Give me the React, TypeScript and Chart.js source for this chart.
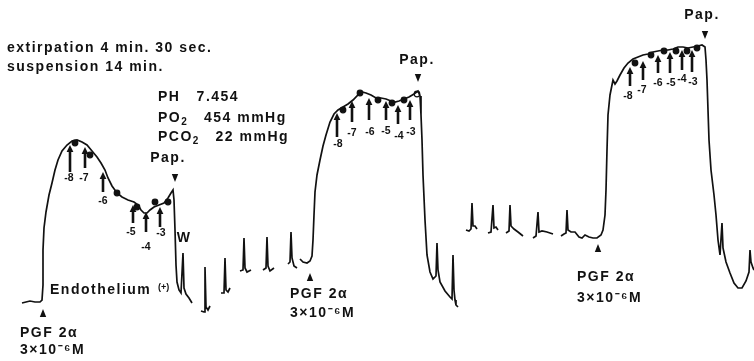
import React, { useEffect, useRef } from "react";
import { Chart, registerables } from "chart.js";

Chart.register(...registerables);

// Recorder trace: time (chart units) and tension (chart units); null = pen lifted
const traceTime = [
  22, 26, 30, 35, 40, 42, 43, 43, 44, 46, 49, 52, 55, 58, 62, 67, 72, 77, 82, 87, 92, 97, 101, 105, 108, 112, 117, 122, 128, 134, 138, 141, 144, 147, 150, 154, 159, 164, 168, 171, 173, 174, 175, 176, 177, 179, 181, 183, 184, 186, 189, 192, 195,
  201, 204, 205, 206, 208, 210, 215,
  221, 224, 225, 226, 228, 230, 235,
  240, 243, 244, 245, 247, 251, 255,
  263, 266, 267, 268, 270, 274, 280,
  288, 290, 291, 292, 294, 297, 298,
  300, 303, 307, 310, 312, 313, 314, 315, 317, 320, 323, 326, 330, 334, 338, 343, 348, 353, 358, 362, 366, 371, 376, 381, 386, 391, 395, 399, 404, 409, 414, 418, 420, 421, 422, 423, 425, 427, 430, 433, 436, 437, 438, 440, 445, 450, 452, 453, 454, 455, 456, 458, 462,
  466, 469, 471, 472, 473, 475, 477, 480,
  488, 491, 493, 494, 496, 498, 500,
  506, 509, 510, 511, 514, 518, 523, 528,
  533, 536, 538, 539, 542, 547, 553, 557,
  561, 564, 566, 567, 568, 571, 575, 579, 582, 585, 589, 593, 597, 601, 603, 605, 606, 607, 608, 610, 612, 613, 615, 617, 620, 624, 628, 633, 638, 643, 648, 653, 658, 663, 668, 673, 678, 683, 688, 693, 698, 702, 705, 706, 707, 708, 709, 711, 714, 716, 718, 720, 722, 723, 726, 730, 734, 738, 742, 746, 749, 750, 751, 753, 754,
];
const traceTension = [
  58, 59, 60, 59, 59, 61, 76, 111, 133, 149, 166, 178, 191, 201, 210, 216, 220, 221, 219, 216, 210, 204, 198, 191, 183, 175, 168, 164, 161, 159, 156, 151, 148, 148, 151, 154, 156, 158, 163, 168, 171, 161, 131, 96, 79, 71, 68, 108, 73, 67, 63, 58, null,
  50, 49, 94, 54, 51, 55, null,
  68, 68, 103, 71, 69, 73, null,
  90, 91, 123, 93, 89, 91, null,
  91, 93, 124, 95, 90, 93, null,
  97, 99, 129, 103, 95, 93, null,
  102, 99, 98, 100, 105, 121, 146, 169, 186, 201, 215, 226, 239, 247, 251, 254, 257, 261, 266, 269, 268, 266, 263, 263, 262, 260, 259, 260, 262, 264, 267, 270, 265, 246, 221, 186, 141, 106, 89, 82, 85, 118, 91, 79, 70, 64, 62, 106, 71, 61, 56, 54, null,
  131, 130, 132, 158, 135, 135, 132, null,
  128, 129, 156, 133, 134, 131, null,
  128, 130, 156, 135, 132, 129, 125, null,
  123, 125, 149, 129, 130, 129, 127, null,
  125, 127, 128, 151, 131, 129, 129, 124, 123, 126, 124, 123, 123, 126, 131, 146, 171, 211, 246, 266, 276, 281, 277, 280, 286, 293, 298, 302, 304, 306, 307, 309, 310, 311, 311, 312, 314, 314, 313, 314, 315, 316, 314, 301, 281, 251, 221, 191, 166, 146, 121, 106, 138, 113, 99, 88, 78, 73, 73, 80, 89, 111, 99, 93, 91,
];

// Measurement dots on the plateau
const dotTime = [75, 90, 117, 137, 155, 168, 343, 360, 378, 392, 404, 417, 635, 651, 664, 676, 687, 697];
const dotTension = [218, 206, 168, 154, 159, 159, 251, 268, 261, 258, 261, 267, 298, 306, 310, 310, 310, 313];
const dotOpen = [false, false, false, false, false, false, false, false, false, false, false, true, false, false, false, false, false, false];

// Papaverine-dose arrows (-8 ... -3)
const arrowLabels = ["-8", "-7", "-6", "-5", "-4", "-3", "-8", "-7", "-6", "-5", "-4", "-3", "-8", "-7", "-6", "-5", "-4", "-3"];
const arrowTime = [70, 85, 103, 133, 146, 160, 337, 352, 369, 386, 398, 410, 630, 643, 658, 670, 682, 692];
const arrowTail = [189, 193, 169, 138, 129, 134, 224, 239, 241, 241, 237, 241, 275, 281, 288, 288, 291, 289];
const arrowHead = [216, 214, 189, 156, 149, 154, 248, 260, 263, 260, 256, 261, 294, 300, 306, 309, 311, 311];
const arrowLabelTime = [69, 84, 103, 131, 146, 161, 338, 352, 370, 386, 399, 411, 628, 642, 658, 671, 682, 693];
const arrowLabelTension = [183, 183, 160, 129, 114, 128, 217, 228, 229, 230, 225, 229, 265, 271, 278, 278, 282, 279];

// Event markers
const downMarkTime = [175, 418, 705];
const downMarkTension = [183, 283, 326];
const upMarkTime = [43, 310, 598];
const upMarkTension = [48, 84, 113];

// Text notes ("_" marks a subscript character)
const noteText = [
  "extirpation 4 min. 30 sec.",
  "suspension 14 min.",
  "PH   7.454",
  "PO_2   454 mmHg",
  "PCO_2   22 mmHg",
  "Pap.", "Pap.", "Pap.",
  "W",
  "Endothelium",
  "(+)",
  "PGF 2\u03b1", "3\u00d710\u207b\u2076M",
  "PGF 2\u03b1", "3\u00d710\u207b\u2076M",
  "PGF 2\u03b1", "3\u00d710\u207b\u2076M",
];
const noteTime = [7, 7, 158, 158, 158, 168, 417, 702, 184, 50, 158, 20, 20, 290, 290, 577, 577];
const noteTension = [313, 294, 264, 243, 224, 203, 301, 346, 123, 71, 73, 28, 11, 67, 48, 84, 63];
const noteAlign = ["left", "left", "left", "left", "left", "center", "center", "center", "center", "left", "left", "left", "left", "left", "left", "left", "left"];
const noteSize = [14, 14, 14, 14, 14, 14, 14, 14, 14, 14, 9, 14, 14, 14, 14, 14, 14];

const INK = "#111";
const FONT = '"Liberation Sans", Arial, sans-serif';

const annotations = {
  id: "annotations",
  afterDatasetsDraw(chart: any) {
    const { ctx } = chart;
    const xs = chart.scales.x;
    const ys = chart.scales.y;
    const X = (v: number) => xs.getPixelForValue(v);
    const Y = (v: number) => ys.getPixelForValue(v);
    ctx.save();
    ctx.fillStyle = INK;
    ctx.strokeStyle = INK;

    // arrows
    arrowTime.forEach((t, i) => {
      const px = X(t);
      const ty = Y(arrowTail[i]);
      const hy = Y(arrowHead[i]);
      ctx.lineWidth = 2.6;
      ctx.beginPath();
      ctx.moveTo(px, ty);
      ctx.lineTo(px, hy + 5);
      ctx.stroke();
      ctx.beginPath();
      ctx.moveTo(px, hy);
      ctx.lineTo(px - 3.4, hy + 7);
      ctx.lineTo(px + 3.4, hy + 7);
      ctx.closePath();
      ctx.fill();
    });

    // arrow labels
    ctx.font = `bold 10.5px ${FONT}`;
    ctx.textAlign = "center";
    ctx.textBaseline = "middle";
    arrowLabels.forEach((s, i) => {
      ctx.fillText(s, X(arrowLabelTime[i]), Y(arrowLabelTension[i]));
    });

    // triangles
    downMarkTime.forEach((t, i) => {
      const px = X(t), py = Y(downMarkTension[i]);
      ctx.beginPath();
      ctx.moveTo(px - 3.2, py - 4);
      ctx.lineTo(px + 3.2, py - 4);
      ctx.lineTo(px, py + 4);
      ctx.closePath();
      ctx.fill();
    });
    upMarkTime.forEach((t, i) => {
      const px = X(t), py = Y(upMarkTension[i]);
      ctx.beginPath();
      ctx.moveTo(px - 3.2, py + 4);
      ctx.lineTo(px + 3.2, py + 4);
      ctx.lineTo(px, py - 4);
      ctx.closePath();
      ctx.fill();
    });

    // notes
    noteText.forEach((s, i) => {
      const size = noteSize[i];
      const spacing = size >= 13 ? "1.5px" : "0px";
      ctx.textBaseline = "middle";
      const px = X(noteTime[i]);
      const py = Y(noteTension[i]);
      if (s.includes("_")) {
        const parts = s.split("_");
        let cx = px;
        ctx.textAlign = "left";
        parts.forEach((part, k) => {
          if (k === 0) {
            ctx.font = `bold ${size}px ${FONT}`;
            (ctx as any).letterSpacing = spacing;
            ctx.fillText(part, cx, py);
            cx += ctx.measureText(part).width;
          } else {
            const sub = part.charAt(0);
            const rest = part.slice(1);
            ctx.font = `bold ${Math.round(size * 0.72)}px ${FONT}`;
            (ctx as any).letterSpacing = "0px";
            ctx.fillText(sub, cx, py + 4);
            cx += ctx.measureText(sub).width + 1;
            ctx.font = `bold ${size}px ${FONT}`;
            (ctx as any).letterSpacing = spacing;
            ctx.fillText(rest, cx, py);
            cx += ctx.measureText(rest).width;
          }
        });
      } else {
        ctx.font = `bold ${size}px ${FONT}`;
        ctx.textAlign = noteAlign[i];
        (ctx as any).letterSpacing = spacing;
        ctx.fillText(s, px, py);
      }
    });
    (ctx as any).letterSpacing = "0px";
    ctx.restore();
  },
};

export default function App() {
  const ref = useRef<HTMLCanvasElement | null>(null);
  useEffect(() => {
    if (!ref.current) return;
    const traceData = traceTime.map((t, i) => ({ x: t, y: traceTension[i] }));
    const dotData = dotTime.map((t, i) => ({ x: t, y: dotTension[i] }));
    const chart = new Chart(ref.current, {
      type: "line",
      data: {
        datasets: [
          {
            label: "trace",
            data: traceData as any,
            borderColor: INK,
            borderWidth: 1.7,
            pointRadius: 0,
            pointHoverRadius: 0,
            tension: 0,
            spanGaps: false,
            fill: false,
            clip: false as any,
          },
          {
            label: "dots",
            data: dotData as any,
            showLine: false,
            pointRadius: 2.8,
            pointHoverRadius: 0,
            pointBorderWidth: 1.2,
            pointBorderColor: INK,
            pointBackgroundColor: dotOpen.map((o) => (o ? "#fff" : INK)),
          },
        ],
      },
      options: {
        responsive: false,
        animation: false,
        events: [],
        layout: { padding: 0, autoPadding: false },
        plugins: { legend: { display: false }, tooltip: { enabled: false } },
        scales: {
          x: { type: "linear", min: 0, max: 754, display: false },
          y: { type: "linear", min: 0, max: 361, display: false },
        },
      },
      plugins: [annotations],
    });
    return () => chart.destroy();
  }, []);
  return (
    <div style={{ position: "fixed", left: 0, top: 0, width: 754, height: 361, background: "#fff" }}>
      <canvas ref={ref} width={754} height={361} style={{ display: "block" }} />
    </div>
  );
}
